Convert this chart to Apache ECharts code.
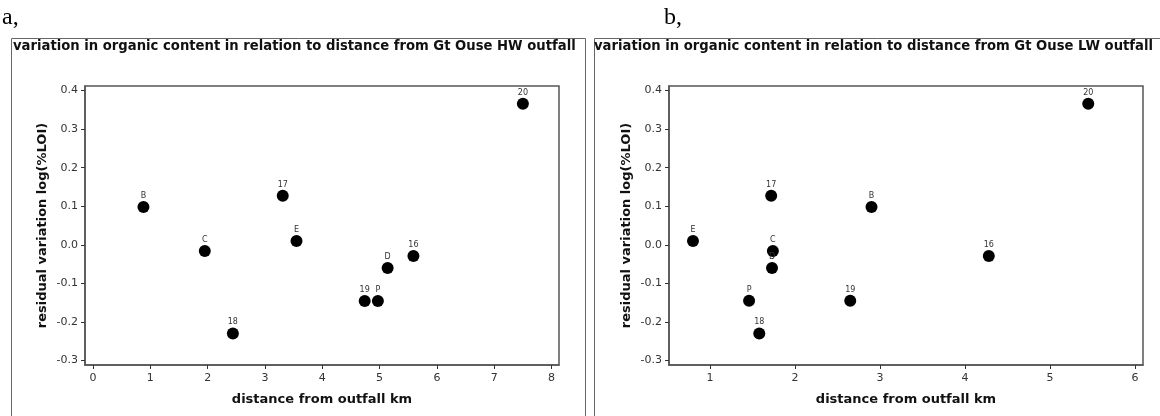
<!DOCTYPE html>
<html><head><meta charset="utf-8">
<script src="https://cdn.jsdelivr.net/npm/echarts@6/dist/echarts.min.js"></script>
<style>html,body{margin:0;padding:0;background:#fff}#c{width:1160px;height:416px}</style>
</head><body><div id="c"></div>
<script>
// Panel a: HW outfall
const labelsA = ['B','C','18','17','E','16','D','19','P','20'];
const distA   = [0.88, 1.95, 2.44, 3.31, 3.55, 5.59, 5.14, 4.74, 4.97, 7.50];
const resA    = [0.098, -0.016, -0.230, 0.127, 0.010, -0.029, -0.060, -0.146, -0.146, 0.366];
// Panel b: LW outfall
const labelsB = ['E','17','C','D','B','P','18','19','16','20'];
const distB   = [0.80, 1.72, 1.74, 1.73, 2.90, 1.46, 1.58, 2.65, 4.28, 5.45];
const resB    = [0.010, 0.127, -0.016, -0.060, 0.098, -0.145, -0.230, -0.145, -0.029, 0.366];
const xTicksA = [0,1,2,3,4,5,6,7,8];
const xTicksB = [1,2,3,4,5,6];
const yTicks  = [-0.3,-0.2,-0.1,0.0,0.1,0.2,0.3,0.4];
const titleA = 'variation in organic content in relation to distance from Gt Ouse HW outfall';
const titleB = 'variation in organic content in relation to distance from Gt Ouse LW outfall';
const xName = 'distance from outfall km';
const yName = 'residual variation log(%LOI)';

const sans = 'DejaVu Sans';
const axisCol = '#555';
function pts(xs, ys, ls){ return xs.map((x,i)=>({value:[x, ys[i]], name: ls[i]})); }
function xAxis(idx, min, max, ticks){
  return {type:'value', gridIndex:idx, min:min, max:max, name:xName, nameLocation:'middle', nameGap:28,
    nameTextStyle:{fontFamily:sans, fontWeight:'bold', fontSize:13, color:'#111'},
    axisLine:{show:true, onZero:false, lineStyle:{color:axisCol, width:1.5}},
    axisTick:{show:true, length:4, customValues:ticks, lineStyle:{color:'#333'}},
    axisLabel:{customValues:ticks, margin:8, fontFamily:sans, fontSize:11, color:'#333', formatter:v=>String(Math.round(v))},
    splitLine:{show:false}};
}
function yAxis(idx){
  return {type:'value', gridIndex:idx, min:-0.312, max:0.412, name:yName, nameLocation:'middle', nameGap:36, nameRotate:90,
    nameTextStyle:{fontFamily:sans, fontWeight:'bold', fontSize:13, color:'#111'},
    axisLine:{show:true, onZero:false, lineStyle:{color:axisCol, width:1.5}},
    axisTick:{show:true, length:4, customValues:yTicks, lineStyle:{color:'#333'}},
    axisLabel:{customValues:yTicks, margin:7, fontFamily:sans, fontSize:11, color:'#333', formatter:v=>v.toFixed(1)},
    splitLine:{show:false}};
}
function series(idx, data){
  return {type:'scatter', xAxisIndex:idx, yAxisIndex:idx, data:data, symbolSize:12,
    itemStyle:{color:'#000', opacity:1},
    label:{show:true, position:'top', distance:1, formatter:p=>p.name, fontFamily:sans, fontSize:8, color:'#333'}};
}
const chart = echarts.init(document.getElementById('c'), null, {renderer:'canvas'});
chart.setOption({
  animation:false,
  title:[
    {text:titleA, left:8, top:35, textStyle:{fontFamily:sans, fontWeight:'bold', fontSize:13.2, color:'#111'}},
    {text:titleB, left:589, top:35, textStyle:{fontFamily:sans, fontWeight:'bold', fontSize:13.2, color:'#111'}}
  ],
  grid:[
    {left:85, top:86, width:474, height:279, show:true, borderColor:axisCol, borderWidth:1.5, backgroundColor:'#fff'},
    {left:669, top:86, width:474, height:279, show:true, borderColor:axisCol, borderWidth:1.5, backgroundColor:'#fff'}
  ],
  xAxis:[xAxis(0, -0.14, 8.13, xTicksA), xAxis(1, 0.518, 6.094, xTicksB)],
  yAxis:[yAxis(0), yAxis(1)],
  series:[series(0, pts(distA, resA, labelsA)), series(1, pts(distB, resB, labelsB))],
  graphic:[
    {type:'polyline', shape:{points:[[11.5,420],[11.5,38.5],[585.5,38.5],[585.5,420]]}, style:{stroke:'#666', lineWidth:1, fill:null}},
    {type:'polyline', shape:{points:[[594.5,420],[594.5,38.5],[1165,38.5]]}, style:{stroke:'#666', lineWidth:1, fill:null}},
    {type:'text', left:2, top:6, style:{text:'a,', font:'24px "Liberation Serif"', fill:'#000'}},
    {type:'text', left:664, top:6, style:{text:'b,', font:'24px "Liberation Serif"', fill:'#000'}}
  ]
});
</script></body></html>
